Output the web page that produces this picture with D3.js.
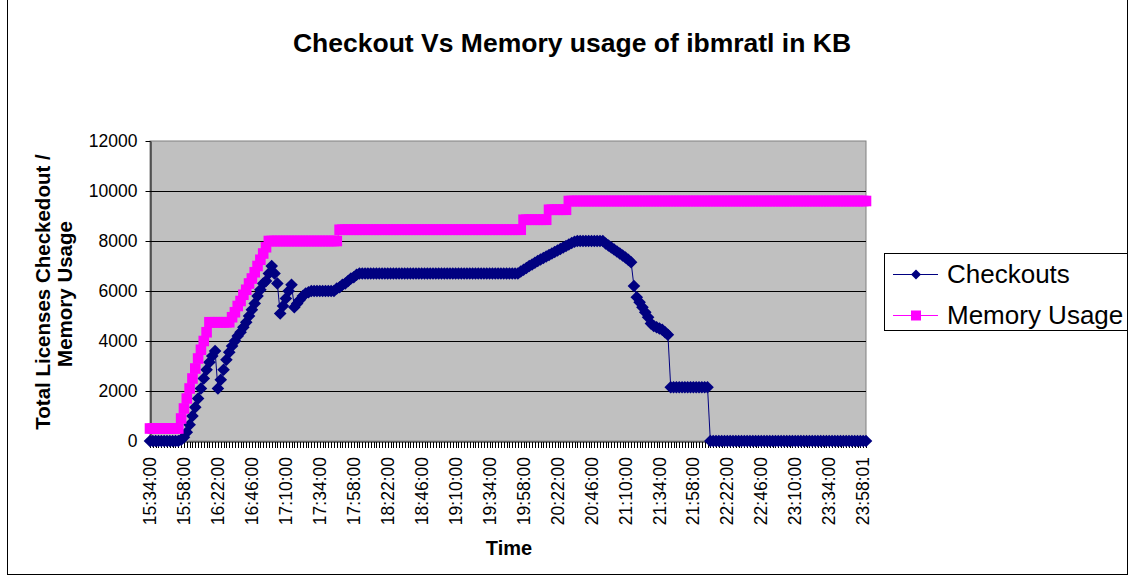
<!DOCTYPE html>
<html>
<head>
<meta charset="utf-8">
<script src="https://cdn.jsdelivr.net/npm/d3@7"></script>
<style>
  body { margin: 0; background: #fff; }
  svg { display: block; font-family: "Liberation Sans", Arial, sans-serif; }
</style>
</head>
<body>
<svg id="chart" width="1129" height="576"></svg>
<script>
// 数据：每2分钟一个采样点
const startTime = "15:34:00";
const sampleCount = 254;
const tickLabels = ["15:34:00", "15:58:00", "16:22:00", "16:46:00", "17:10:00", "17:34:00",
  "17:58:00", "18:22:00", "18:46:00", "19:10:00", "19:34:00", "19:58:00", "20:22:00",
  "20:46:00", "21:10:00", "21:34:00", "21:58:00", "22:22:00", "22:46:00", "23:10:00",
  "23:34:00", "23:58:01"];
const yTicks = [0, 2000, 4000, 6000, 8000, 10000, 12000];

const checkouts = [
  0, 0, 0, 0, 0, 0, 0, 0, 0, 0, 0, 50,
  150, 350, 650, 1000, 1350, 1700, 2100, 2500, 2850, 3150, 3400, 3600,
  2100, 2450, 2850, 3250, 3550, 3800, 4000, 4200, 4350, 4550, 4750, 5000,
  5250, 5500, 5800, 6050, 6300, 6400, 6700, 7000, 6700, 6300, 5100, 5400,
  5700, 6000, 6250, 5350, 5500, 5650, 5800, 5900, 5950, 6000, 6000, 6000,
  6000, 6000, 6000, 6000, 6000, 6000, 6100, 6150, 6250, 6300, 6400, 6500,
  6550, 6650, 6700, 6700, 6700, 6700, 6700, 6700, 6700, 6700, 6700, 6700,
  6700, 6700, 6700, 6700, 6700, 6700, 6700, 6700, 6700, 6700, 6700, 6700,
  6700, 6700, 6700, 6700, 6700, 6700, 6700, 6700, 6700, 6700, 6700, 6700,
  6700, 6700, 6700, 6700, 6700, 6700, 6700, 6700, 6700, 6700, 6700, 6700,
  6700, 6700, 6700, 6700, 6700, 6700, 6700, 6700, 6700, 6700, 6700, 6780,
  6850, 6920, 7000, 7060, 7130, 7200, 7260, 7320, 7380, 7440, 7500, 7560,
  7620, 7680, 7740, 7800, 7860, 7920, 7970, 8000, 8000, 8000, 8000, 8000,
  8000, 8000, 8000, 8000, 8000, 7900, 7820, 7740, 7660, 7580, 7500, 7420,
  7340, 7250, 7150, 6200, 5750, 5550, 5350, 5150, 4950, 4700, 4600, 4550,
  4500, 4450, 4350, 4250, 2150, 2150, 2150, 2150, 2150, 2150, 2150, 2150,
  2150, 2150, 2150, 2150, 2150, 2150, 0, 0, 0, 0, 0, 0,
  0, 0, 0, 0, 0, 0, 0, 0, 0, 0, 0, 0,
  0, 0, 0, 0, 0, 0, 0, 0, 0, 0, 0, 0,
  0, 0, 0, 0, 0, 0, 0, 0, 0, 0, 0, 0,
  0, 0, 0, 0, 0, 0, 0, 0, 0, 0, 0, 0,
  0, 0
];

const memoryUsage = [
  500, 500, 500, 500, 500, 500, 500, 500, 500, 500, 500, 900,
  1300, 1700, 2100, 2500, 2900, 3300, 3650, 4000, 4350, 4750, 4750, 4750,
  4750, 4750, 4750, 4750, 4750, 4950, 5150, 5400, 5600, 5850, 6050, 6300,
  6500, 6750, 7000, 7250, 7500, 7750, 8000, 8000, 8000, 8000, 8000, 8000,
  8000, 8000, 8000, 8000, 8000, 8000, 8000, 8000, 8000, 8000, 8000, 8000,
  8000, 8000, 8000, 8000, 8000, 8000, 8000, 8450, 8450, 8450, 8450, 8450,
  8450, 8450, 8450, 8450, 8450, 8450, 8450, 8450, 8450, 8450, 8450, 8450,
  8450, 8450, 8450, 8450, 8450, 8450, 8450, 8450, 8450, 8450, 8450, 8450,
  8450, 8450, 8450, 8450, 8450, 8450, 8450, 8450, 8450, 8450, 8450, 8450,
  8450, 8450, 8450, 8450, 8450, 8450, 8450, 8450, 8450, 8450, 8450, 8450,
  8450, 8450, 8450, 8450, 8450, 8450, 8450, 8450, 8450, 8450, 8450, 8450,
  8850, 8850, 8850, 8850, 8850, 8850, 8850, 8850, 8850, 9250, 9250, 9250,
  9250, 9250, 9250, 9250, 9600, 9600, 9600, 9600, 9600, 9600, 9600, 9600,
  9600, 9600, 9600, 9600, 9600, 9600, 9600, 9600, 9600, 9600, 9600, 9600,
  9600, 9600, 9600, 9600, 9600, 9600, 9600, 9600, 9600, 9600, 9600, 9600,
  9600, 9600, 9600, 9600, 9600, 9600, 9600, 9600, 9600, 9600, 9600, 9600,
  9600, 9600, 9600, 9600, 9600, 9600, 9600, 9600, 9600, 9600, 9600, 9600,
  9600, 9600, 9600, 9600, 9600, 9600, 9600, 9600, 9600, 9600, 9600, 9600,
  9600, 9600, 9600, 9600, 9600, 9600, 9600, 9600, 9600, 9600, 9600, 9600,
  9600, 9600, 9600, 9600, 9600, 9600, 9600, 9600, 9600, 9600, 9600, 9600,
  9600, 9600, 9600, 9600, 9600, 9600, 9600, 9600, 9600, 9600, 9600, 9600,
  9600, 9600
];

// 时间类别（x轴为类别轴）
function buildCategories() {
  const parts = startTime.split(":").map(Number);
  const base = parts[0] * 60 + parts[1];
  const list = [];
  for (let i = 0; i < sampleCount; i++) {
    const m = base + i * 2;
    const hh = Math.floor(m / 60) % 24;
    const mm = m % 60;
    const ss = i >= 252 ? 1 : 0; // 最后的采样带1秒
    list.push([hh, mm, ss].map(v => String(v).padStart(2, "0")).join(":"));
  }
  return list;
}
const categories = buildCategories();

const svg = d3.select("#chart");
const plot = { left: 150, right: 866, top: 141, bottom: 441 };
const navy = "#000080";
const magenta = "#ff00ff";

// 外框
svg.append("rect")
  .attr("x", 7.5).attr("y", -0.5)
  .attr("width", 1120).attr("height", 575)
  .attr("fill", "#fff").attr("stroke", "#000");

const x = d3.scalePoint().domain(categories).range([plot.left, plot.right]);
const y = d3.scaleLinear().domain([0, 12000]).range([plot.bottom, plot.top]);

// 绘图区
svg.append("rect")
  .attr("x", plot.left).attr("y", plot.top)
  .attr("width", plot.right - plot.left).attr("height", plot.bottom - plot.top)
  .attr("fill", "#c0c0c0").attr("stroke", "#808080");

// 网格线
svg.append("g")
  .selectAll("line")
  .data(yTicks.filter(v => v > 0 && v < 12000))
  .enter().append("line")
  .attr("x1", plot.left).attr("x2", plot.right)
  .attr("y1", d => Math.round(y(d)) + 0.5).attr("y2", d => Math.round(y(d)) + 0.5)
  .attr("stroke", "#000");

// Y轴
const yAxis = svg.append("g")
  .attr("transform", `translate(${plot.left + 0.5},0)`)
  .call(d3.axisLeft(y).tickValues(yTicks).tickFormat(d3.format("d"))
    .tickSize(5).tickSizeOuter(0).tickPadding(8));
yAxis.selectAll("text").attr("font-size", "17.5px").attr("fill", "#000")
  .style("font-family", '"Liberation Sans", Arial, sans-serif');
yAxis.select(".domain").attr("stroke", "#000");

// X轴（每个类别都有刻度）
const xAxis = svg.append("g")
  .attr("transform", `translate(0,${plot.bottom + 0.5})`)
  .call(d3.axisBottom(x).tickSize(6).tickSizeOuter(0).tickFormat(""));
xAxis.select(".domain").attr("stroke", "#000");
xAxis.selectAll(".tick line").attr("stroke", "#000").attr("shape-rendering", "crispEdges");

svg.append("g")
  .selectAll("text")
  .data(tickLabels)
  .enter().append("text")
  .attr("transform", d => `translate(${x(d)},457) rotate(-90)`)
  .attr("dy", "0.35em")
  .attr("text-anchor", "end")
  .attr("font-size", "17.5px")
  .text(d => d);

// 数据线
const series = [
  { name: "Checkouts", values: checkouts, color: navy, marker: "diamond" },
  { name: "Memory Usage", values: memoryUsage, color: magenta, marker: "square" }
];

function markerPath(type, s) {
  if (type === "diamond") return `M0,${-s}L${s},0L0,${s}L${-s},0Z`;
  return `M${-s},${-s}H${s}V${s}H${-s}Z`;
}

const line = d3.line()
  .x((d, i) => x(categories[i]))
  .y(d => y(d));

series.forEach(s => {
  const g = svg.append("g");
  g.append("path")
    .datum(s.values)
    .attr("d", line)
    .attr("fill", "none")
    .attr("stroke", s.color)
    .attr("stroke-width", 1);
  g.selectAll("path.mark")
    .data(s.values)
    .enter().append("path")
    .attr("class", "mark")
    .attr("transform", (d, i) => `translate(${x(categories[i])},${y(d)})`)
    .attr("d", markerPath(s.marker, s.marker === "diamond" ? 6.3 : 5.3))
    .attr("fill", s.color);
});

// 标题
svg.append("text")
  .attr("x", 572).attr("y", 52)
  .attr("text-anchor", "middle")
  .attr("font-size", "26.5px").attr("font-weight", "bold")
  .text("Checkout Vs Memory usage of ibmratl in KB");

// 轴标题
svg.append("text")
  .attr("transform", "translate(50,292) rotate(-90)")
  .attr("text-anchor", "middle")
  .attr("font-size", "20.5px").attr("font-weight", "bold")
  .text("Total Licenses Checkedout /");
svg.append("text")
  .attr("transform", "translate(72,294) rotate(-90)")
  .attr("text-anchor", "middle")
  .attr("font-size", "20.5px").attr("font-weight", "bold")
  .text("Memory Usage");
svg.append("text")
  .attr("x", 509).attr("y", 555)
  .attr("text-anchor", "middle")
  .attr("font-size", "20px").attr("font-weight", "bold")
  .text("Time");

// 图例
const legend = svg.append("g");
legend.append("rect")
  .attr("x", 884.5).attr("y", 253.5)
  .attr("width", 243).attr("height", 77)
  .attr("fill", "#fff").attr("stroke", "#000");
series.forEach((s, i) => {
  const ly = 274 + i * 41;
  legend.append("line")
    .attr("x1", 893).attr("x2", 938)
    .attr("y1", ly + 0.5).attr("y2", ly + 0.5)
    .attr("stroke", s.color);
  legend.append("path")
    .attr("transform", `translate(916,${ly + 0.5})`)
    .attr("d", markerPath(s.marker, 5))
    .attr("fill", s.color);
  legend.append("text")
    .attr("x", 947).attr("y", ly + 9)
    .attr("font-size", "26px")
    .text(s.name);
});
</script>
</body>
</html>
